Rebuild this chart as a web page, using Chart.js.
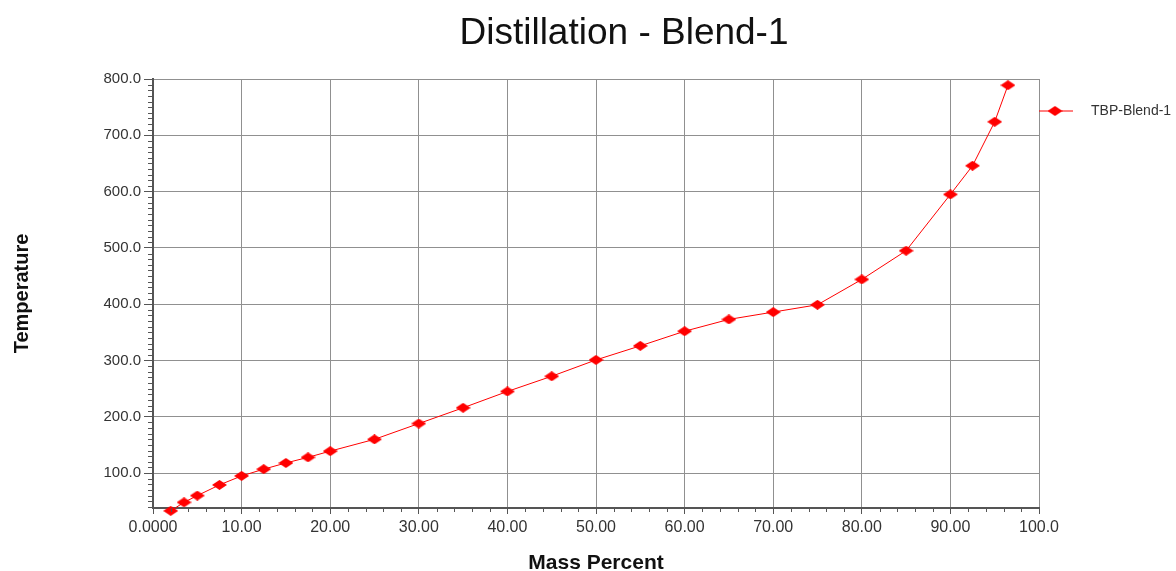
<!DOCTYPE html>
<html>
<head>
<meta charset="utf-8">
<title>Distillation - Blend-1</title>
<script src="https://cdn.jsdelivr.net/npm/chart.js@4.4.1/dist/chart.umd.min.js"></script>
<style>
  body { margin: 0; background: #fff; }
  canvas { display: block; }
</style>
</head>
<body>
<canvas id="myChart" width="1176" height="571"></canvas>
<script>
// data
var massPercent = [2, 3.5, 5, 7.5, 10, 12.5, 15, 17.5, 20, 25, 30, 35, 40, 45, 50, 55, 60, 65, 70, 75, 80, 85, 90, 92.5, 95, 96.5];
var temperature = [33, 48, 60, 79, 95, 107, 118, 128, 139, 160, 188, 216, 245, 272, 301, 326, 352, 373, 386, 399, 444, 495, 595, 646, 724, 789];

var xTickValues = [0, 10, 20, 30, 40, 50, 60, 70, 80, 90, 100];
var xTickLabels = ['0.0000', '10.00', '20.00', '30.00', '40.00', '50.00', '60.00', '70.00', '80.00', '90.00', '100.0'];
var yTickValues = [100, 200, 300, 400, 500, 600, 700, 800];
var yTickLabels = ['100.0', '200.0', '300.0', '400.0', '500.0', '600.0', '700.0', '800.0'];

var seriesName = 'TBP-Blend-1';
var titleText = 'Distillation - Blend-1';

Chart.defaults.font.family = '"Liberation Sans", Arial, sans-serif';
Chart.defaults.color = '#333';

// flattened red diamond marker
function diamond(w, h) {
    var c = document.createElement('canvas');
    c.width = w; c.height = h;
    var g = c.getContext('2d');
    g.fillStyle = '#ff0000';
    g.beginPath();
    g.moveTo(w / 2, 0); g.lineTo(w, h / 2); g.lineTo(w / 2, h); g.lineTo(0, h / 2);
    g.closePath();
    g.fill();
    return c;
}
var marker = diamond(15, 10);

// legend symbol: line with a diamond on it
var legendIcon = document.createElement('canvas');
legendIcon.width = 52; legendIcon.height = 10;
(function () {
    var g = legendIcon.getContext('2d');
    g.strokeStyle = '#ff0000';
    g.lineWidth = 1;
    g.beginPath(); g.moveTo(0, 5); g.lineTo(36, 5); g.stroke();
    g.drawImage(marker, 10.5, 0);
})();

var minorTicks = {
    id: 'minorTicks',
    afterDraw: function (chart) {
        var ctx = chart.ctx, area = chart.chartArea;
        var x = chart.scales.x, y = chart.scales.y;
        ctx.save();
        ctx.strokeStyle = '#555';
        ctx.lineWidth = 1;
        ctx.beginPath();
        for (var v = 0; v <= 100; v += 2) {
            if (v % 10 === 0) continue;
            var px = Math.round(x.getPixelForValue(v)) + 0.5;
            ctx.moveTo(px, area.bottom);
            ctx.lineTo(px, area.bottom + 4);
        }
        for (var t = Math.ceil(y.min / 10) * 10; t <= y.max; t += 10) {
            if (t % 100 === 0) continue;
            var py = Math.round(y.getPixelForValue(t)) + 0.5;
            ctx.moveTo(area.left - 5, py);
            ctx.lineTo(area.left, py);
        }
        ctx.stroke();
        ctx.restore();
    }
};

var chartTitle = {
    id: 'chartTitle',
    afterDraw: function (chart) {
        var ctx = chart.ctx;
        ctx.save();
        ctx.font = '37px "Liberation Sans", Arial, sans-serif';
        ctx.fillStyle = '#111';
        ctx.textAlign = 'center';
        ctx.textBaseline = 'alphabetic';
        ctx.fillText(titleText, 624, 44);
        ctx.restore();
    }
};

var ctx = document.getElementById('myChart').getContext('2d');
var chart = new Chart(ctx, {
    type: 'line',
    data: {
        datasets: [{
            label: seriesName,
            data: massPercent.map(function (m, i) { return {x: m, y: temperature[i]}; }),
            borderColor: '#ff0000',
            backgroundColor: '#ff0000',
            borderWidth: 1,
            pointStyle: marker,
            pointRadius: 5,
            tension: 0,
            clip: 8
        }]
    },
    options: {
        responsive: false,
        animation: false,
        layout: { padding: { top: 79, left: 0, right: 0, bottom: 0 } },
        plugins: {
            title: { display: false },
            tooltip: { enabled: false },
            legend: {
                display: true,
                position: 'right',
                align: 'start',
                maxWidth: 137,
                title: { display: true, text: ' ', font: { size: 22, lineHeight: 1 }, padding: 0 },
                labels: {
                    usePointStyle: true,
                    pointStyleWidth: 42,
                    padding: 3,
                    color: '#333',
                    font: { size: 14 },
                    generateLabels: function (chart) {
                        return [{
                            text: seriesName,
                            pointStyle: legendIcon,
                            fillStyle: '#ff0000',
                            strokeStyle: '#ff0000',
                            lineWidth: 0,
                            hidden: false,
                            datasetIndex: 0
                        }];
                    }
                }
            }
        },
        scales: {
            x: {
                type: 'linear',
                min: 0,
                max: 100,
                afterBuildTicks: function (scale) {
                    scale.ticks = xTickValues.map(function (v) { return {value: v}; });
                },
                afterFit: function (scale) { scale.height = 63; },
                ticks: {
                    autoSkip: false,
                    maxRotation: 0,
                    padding: 4,
                    color: '#333',
                    font: { size: 16 },
                    callback: function (v, i) { return xTickLabels[i]; }
                },
                grid: { color: '#909090', lineWidth: 1, tickLength: 6, tickColor: '#555' },
                border: { color: '#555', width: 2 },
                title: {
                    display: true,
                    text: 'Mass Percent',
                    color: '#111',
                    font: { size: 21, weight: 'bold', lineHeight: 1 },
                    padding: { top: 0, bottom: -3 }
                }
            },
            y: {
                type: 'linear',
                min: 38,
                max: 800,
                afterBuildTicks: function (scale) {
                    scale.ticks = yTickValues.map(function (v) { return {value: v}; });
                },
                afterFit: function (scale) { scale.width = 153; },
                ticks: {
                    padding: 3,
                    color: '#333',
                    font: { size: 15 },
                    callback: function (v, i) { return yTickLabels[i]; }
                },
                grid: { color: '#909090', lineWidth: 1, tickLength: 9, tickColor: '#555' },
                border: { color: '#555', width: 2 },
                title: {
                    display: true,
                    text: 'Temperature',
                    color: '#111',
                    font: { size: 20, weight: 'bold', lineHeight: 1 },
                    padding: { top: 12, bottom: 0 }
                }
            }
        }
    },
    plugins: [minorTicks, chartTitle]
});
</script>
</body>
</html>
